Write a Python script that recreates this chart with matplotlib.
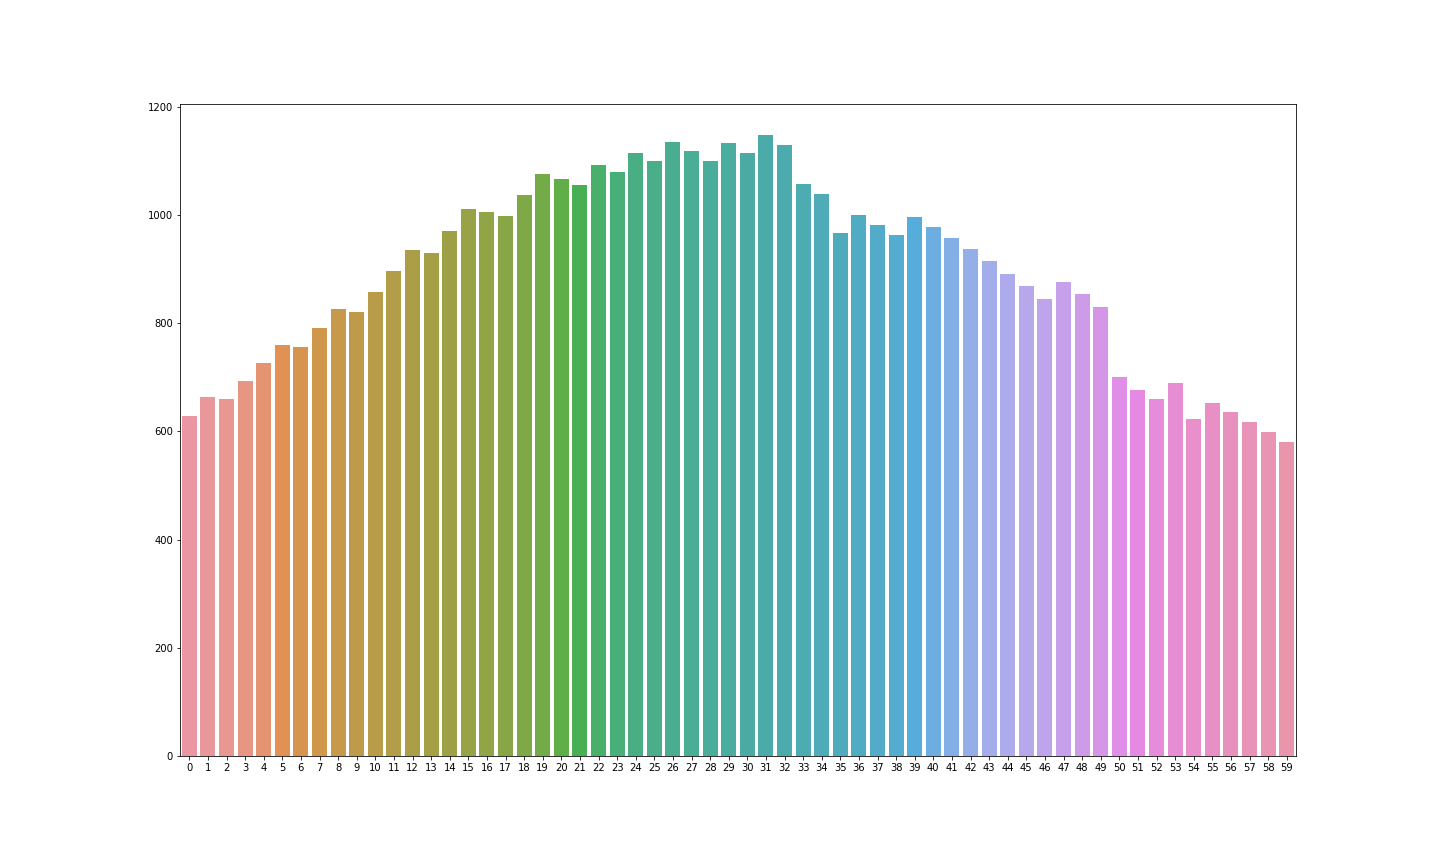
import numpy as np
import matplotlib
matplotlib.use("Agg")
import matplotlib.pyplot as plt
import seaborn as sns

categories = list(range(60))
counts = [628, 663, 660, 693, 726, 760, 756, 791, 826, 821,
          858, 896, 935, 930, 970, 1011, 1006, 998, 1037, 1076,
          1066, 1055, 1092, 1079, 1115, 1100, 1135, 1118, 1100, 1133,
          1115, 1148, 1129, 1057, 1039, 967, 1000, 981, 963, 996,
          978, 957, 937, 915, 891, 869, 845, 876, 854, 830,
          700, 677, 660, 689, 623, 652, 636, 617, 599, 580]

# old seaborn barplot default for many categories: husl with l=.7, desaturated
colors = [sns.desaturate(c, 0.75) for c in sns.husl_palette(len(categories), l=.7)]

fig, ax = plt.subplots(figsize=(20, 12), dpi=72)
fig.subplots_adjust(left=0.125, right=0.9, bottom=0.125, top=0.88)

ax.bar(np.arange(len(categories)), counts, width=0.8, color=colors)
ax.set_xticks(np.arange(len(categories)))
ax.set_xticklabels([str(c) for c in categories])
ax.set_xlim(-0.5, len(categories) - 0.5)

plt.savefig("out.png")
